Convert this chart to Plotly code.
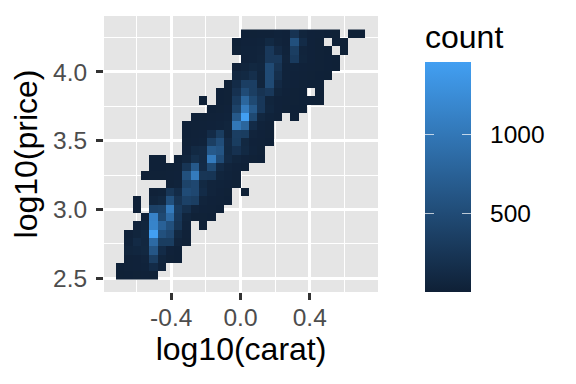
import plotly.graph_objects as go

FONT = "Liberation Sans"

# bin geometry (log10 units)
x_first = -0.6947
x_step = 0.0479
y_first = 2.521
y_step = 0.0606

# counts, bottom row first, 30 columns each; 0 = empty bin
row_00 = [10,15,20,25,20] + [0]*25
row_01 = [15,25,30,40,130,40] + [0]*24
row_02 = [0,25,30,50,340,60,20,15] + [0]*22
row_03 = [0,60,70,90,620,130,30,15] + [0]*22
row_04 = [0,40,120,80,850,330,330,50,20] + [0]*21
row_05 = [0,30,60,90,1457,550,450,90,25] + [0]*21
row_06 = [0,0,30,60,1150,750,550,230,40,0,10] + [0]*19
row_07 = [0,0,0,30,1130,470,850,270,60,20,20,15] + [0]*18
row_08 = [0,0,15,0,380,400,1050,300,170,50,30,25,15] + [0]*17
row_09 = [0,0,15,0,60,90,550,220,380,340,50,30,25,15] + [0]*16
row_10 = [0,0,0,0,25,35,250,130,500,450,130,50,30,20,0,10] + [0]*14
row_11 = [0,0,0,0,0,0,25,40,400,450,100,50,40,30,20] + [0]*15
row_12 = [0,0,0,15,20,20,25,30,550,1050,250,240,60,40,25] + [0]*15
row_13 = [0,0,0,0,15,15,20,25,240,650,130,470,120,50,30,15] + [0]*14
row_14 = [0,0,0,0,15,15,0,15,60,180,120,1050,500,120,60,30,20,15] + [0]*12
row_15 = [0]*8 + [30,100,120,650,600,100,200,100,40,20] + [0]*12
row_16 = [0]*8 + [20,30,40,340,520,110,330,90,30,25,15] + [0]*11
row_17 = [0]*8 + [15,25,30,130,330,60,340,330,50,30,20] + [0]*11
row_18 = [0]*8 + [15,20,25,30,40,60,1000,800,130,40,25] + [0]*11
row_19 = [0]*9 + [15,20,25,30,40,650,1457,470,80,40,25,0,15] + [0]*8
row_20 = [0]*11 + [15,20,30,400,1050,650,270,70,30,20,15,10] + [0]*7
row_21 = [0]*10 + [10,0,15,20,300,800,470,270,60,30,25,20,15,15,10] + [0]*5
row_22 = [0]*12 + [15,20,200,500,340,220,280,60,30,20,15,0,10] + [0]*5
row_23 = [0]*13 + [20,130,350,350,60,480,110,40,30,20,15,15] + [0]*5
row_24 = [0]*14 + [80,100,170,60,480,170,40,30,25,20,15,10] + [0]*4
row_25 = [0]*14 + [30,60,90,70,480,220,40,40,30,25,20,15,10] + [0]*3
row_26 = [0]*15 + [30,40,60,280,280,50,300,60,30,20,15,10] + [0]*3
row_27 = [0]*14 + [20,40,40,50,280,110,40,340,50,30,20,10,0,10] + [0]*2
row_28 = [0]*14 + [15,30,30,40,100,50,30,550,130,30,20,0,15,10] + [0]*2
row_29 = [0]*15 + [15,20,25,25,40,30,220,60,30,25,15,10,0,10,10]

rows = [row_00,row_01,row_02,row_03,row_04,row_05,row_06,row_07,row_08,row_09,
        row_10,row_11,row_12,row_13,row_14,row_15,row_16,row_17,row_18,row_19,
        row_20,row_21,row_22,row_23,row_24,row_25,row_26,row_27,row_28,row_29]

x_ticks = [-0.4, 0.0, 0.4]
x_labels = ["-0.4", "0.0", "0.4"]
y_ticks = [2.5, 3.0, 3.5, 4.0]
y_labels = ["2.5", "3.0", "3.5", "4.0"]
bar_ticks = [500, 1000]
bar_labels = ["\u00a0\u00a0500", "\u00a0\u00a01000"]

z = [[v if v > 0 else None for v in r] for r in rows]

# the page adds an 8 px body margin
W, H = 568, 376
L, R, T, B = 96, 198, 7.5, 92
PW = W - L - R
TICK = "rgba(255,255,255,0.7)"

fig = go.Figure(go.Heatmap(
    z=z, x0=x_first, dx=x_step, y0=y_first, dy=y_step,
    zmin=2, zmax=1457, zsmooth=False, hoverongaps=False,
    colorscale=[[0, "#0F2036"], [1, "#429FF2"]],
    colorbar=dict(
        title=dict(text="count", side="top", font=dict(family=FONT, size=32, color="black")),
        thickness=46, thicknessmode="pixels", len=271, lenmode="pixels",
        x=(417 - L) / PW, xanchor="left", xpad=0,
        y=0, yanchor="bottom", ypad=0,
        outlinewidth=0, borderwidth=0,
        tickmode="array", tickvals=bar_ticks, ticktext=bar_labels,
        ticks="inside", ticklen=9, tickwidth=1, tickcolor=TICK,
        tickfont=dict(family=FONT, size=24.5, color="black"),
    ),
))
# transparent twin whose thin colour bar carries the tick marks on the bar's left edge
fig.add_trace(go.Heatmap(
    z=z, x0=x_first, dx=x_step, y0=y_first, dy=y_step,
    zmin=2, zmax=1457, zsmooth=False, hoverinfo="skip",
    colorscale=[[0, "rgba(0,0,0,0)"], [1, "rgba(0,0,0,0)"]],
    colorbar=dict(
        thickness=9, thicknessmode="pixels", len=230, lenmode="pixels",
        x=(417 - L) / PW, xanchor="left", xpad=0,
        y=0, yanchor="bottom", ypad=0,
        outlinewidth=0, borderwidth=0,
        tickmode="array", tickvals=bar_ticks, ticktext=["", ""],
        ticks="inside", ticklen=9, tickwidth=1, tickcolor=TICK,
    ),
))

axis = dict(
    showline=False, zeroline=False, showgrid=True, gridcolor="white", gridwidth=2.7,
    ticks="outside", ticklen=7, tickwidth=2.5, tickcolor="#333333",
    tickfont=dict(family=FONT, size=24.5, color="#4D4D4D"), automargin=False,
)
fig.update_layout(
    width=W, height=H, margin=dict(l=L, r=R, t=T, b=B, pad=0),
    paper_bgcolor="white", plot_bgcolor="#E5E5E5", font=dict(family=FONT),
    xaxis=dict(axis, range=[-0.788, 0.794], tickmode="array", tickvals=x_ticks, ticktext=x_labels,
               ticklabelstandoff=-3,
               minor=dict(tickmode="array", tickvals=[-0.6, -0.2, 0.2, 0.6], showgrid=True,
                          gridcolor="white", gridwidth=1.3, ticks=""),
               title=dict(text="log10(carat)", font=dict(family=FONT, size=32, color="black"), standoff=6)),
    yaxis=dict(axis, range=[2.399, 4.407], tickmode="array", tickvals=y_ticks, ticktext=y_labels,
               ticklabelstandoff=4,
               minor=dict(tickmode="array", tickvals=[2.75, 3.25, 3.75, 4.25], showgrid=True,
                          gridcolor="white", gridwidth=1.3, ticks=""),
               title=dict(text="log10(price)", font=dict(family=FONT, size=32, color="black"), standoff=8)),
)
fig.write_html("out.html")
